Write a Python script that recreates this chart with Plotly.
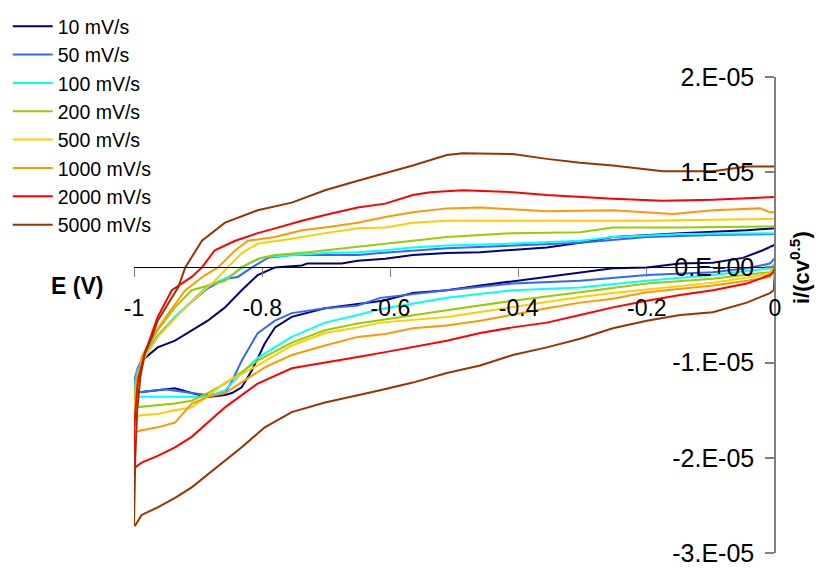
import plotly.graph_objects as go

# Scan-rate labels and colours
labels = ["10 mV/s", "50 mV/s", "100 mV/s", "200 mV/s", "500 mV/s",
          "1000 mV/s", "2000 mV/s", "5000 mV/s"]
colors = ["#000080", "#3366FF", "#00FFFF", "#99CC00", "#FFCC00",
          "#FF9900", "#FF0000", "#993300"]

# Each loop: E (V) and i/(c v^0.5) in units of 1e-5, cathodic sweep (0 -> -1) then anodic (-1 -> 0)
E_10 = [0, -0.019, -0.05, -0.097, -0.148, -0.2, -0.253, -0.356, -0.409, -0.46, -0.512, -0.565, -0.612,
        -0.702, -0.754, -0.78, -0.796, -0.816, -0.832, -0.847, -0.858, -0.885, -0.91, -0.936, -0.963, -0.988, -0.998,
        -1.0, -0.988, -0.963, -0.936, -0.91, -0.885, -0.858, -0.832, -0.807, -0.78, -0.738, -0.73, -0.676, -0.651,
        -0.608, -0.565, -0.512, -0.46, -0.356, -0.304, -0.253, -0.148, -0.044, 0]
I_10 = [0.24, 0.18, 0.10, 0.05, 0.04, 0.0, -0.01, -0.10, -0.14, -0.19, -0.24, -0.27, -0.35,
        -0.43, -0.52, -0.63, -0.80, -1.08, -1.26, -1.32, -1.34, -1.36, -1.32, -1.27, -1.29, -1.31, -1.31,
        -1.25, -0.98, -0.84, -0.77, -0.66, -0.56, -0.42, -0.24, -0.08, 0.0, 0.02, 0.04, 0.04, 0.07,
        0.09, 0.13, 0.15, 0.16, 0.21, 0.26, 0.32, 0.36, 0.39, 0.41]

E_50 = [0, -0.008, -0.044, -0.097, -0.2, -0.304, -0.409, -0.512, -0.616, -0.651, -0.702, -0.754, -0.78,
        -0.807, -0.832, -0.847, -0.858, -0.885, -0.91, -0.952, -0.988, -0.998,
        -1.0, -0.994, -0.983, -0.963, -0.936, -0.91, -0.885, -0.858, -0.838, -0.816, -0.791, -0.754, -0.651,
        -0.616, -0.512, -0.409, -0.304, -0.2, -0.097, 0]
I_50 = [0.10, 0.04, -0.01, -0.05, -0.08, -0.14, -0.17, -0.24, -0.32, -0.40, -0.43, -0.48, -0.56,
        -0.69, -0.98, -1.19, -1.32, -1.34, -1.32, -1.28, -1.31, -1.32,
        -1.20, -1.05, -0.92, -0.72, -0.52, -0.36, -0.22, -0.12, -0.10, 0.0, 0.10, 0.13, 0.13,
        0.15, 0.20, 0.23, 0.26, 0.32, 0.34, 0.35]

E_100 = [0, -0.008, -0.097, -0.2, -0.304, -0.409, -0.512, -0.616, -0.651, -0.702, -0.754, -0.807, -0.832,
         -0.858, -0.885, -0.936, -0.988, -0.998,
         -1.0, -0.994, -0.983, -0.963, -0.936, -0.91, -0.885, -0.852, -0.822, -0.796, -0.754, -0.702, -0.651,
         -0.608, -0.565, -0.512, -0.409, -0.304, -0.253, -0.148, 0]
I_100 = [0.04, -0.01, -0.08, -0.14, -0.21, -0.24, -0.32, -0.44, -0.50, -0.58, -0.73, -0.95, -1.11,
         -1.29, -1.36, -1.36, -1.36, -1.36,
         -1.26, -1.08, -0.94, -0.73, -0.52, -0.35, -0.19, -0.10, 0.04, 0.11, 0.13, 0.15, 0.16,
         0.18, 0.21, 0.23, 0.25, 0.28, 0.32, 0.35, 0.36]

E_200 = [0, -0.008, -0.097, -0.2, -0.304, -0.409, -0.512, -0.616, -0.651, -0.702, -0.754, -0.807, -0.858,
         -0.885, -0.91, -0.936, -0.963, -0.988, -0.998,
         -1.0, -0.996, -0.983, -0.963, -0.936, -0.91, -0.858, -0.832, -0.807, -0.78, -0.729, -0.676, -0.608,
         -0.565, -0.512, -0.409, -0.304, -0.253, -0.148, 0]
I_200 = [0.03, -0.05, -0.12, -0.17, -0.26, -0.35, -0.45, -0.55, -0.59, -0.66, -0.79, -0.98, -1.22,
         -1.32, -1.40, -1.43, -1.45, -1.47, -1.47,
         -1.40, -1.15, -0.90, -0.66, -0.42, -0.24, -0.14, 0.0, 0.09, 0.13, 0.16, 0.20, 0.25,
         0.28, 0.32, 0.36, 0.37, 0.42, 0.42, 0.43]

E_500 = [0, -0.008, -0.097, -0.2, -0.253, -0.304, -0.409, -0.512, -0.616, -0.651, -0.702, -0.754, -0.807,
         -0.858, -0.885, -0.91, -0.936, -0.963, -0.988, -0.998,
         -1.0, -0.995, -0.983, -0.963, -0.92, -0.874, -0.858, -0.832, -0.807, -0.754, -0.702, -0.651,
         -0.608, -0.565, -0.512, -0.409, -0.304, -0.2, -0.097, 0]
I_500 = [0.03, -0.07, -0.16, -0.23, -0.27, -0.31, -0.42, -0.52, -0.58, -0.63, -0.69, -0.82, -1.03,
         -1.21, -1.35, -1.47, -1.50, -1.54, -1.55, -1.57,
         -1.50, -1.20, -0.94, -0.73, -0.42, -0.14, -0.03, 0.15, 0.25, 0.30, 0.36, 0.41,
         0.42, 0.47, 0.49, 0.49, 0.49, 0.49, 0.50, 0.51]

E_1000 = [0, -0.003, -0.008, -0.044, -0.097, -0.2, -0.253, -0.304, -0.356, -0.409, -0.46, -0.512, -0.565,
          -0.608, -0.651, -0.702, -0.754, -0.796, -0.832, -0.858, -0.885, -0.91, -0.936, -0.963, -0.988, -0.998,
          -1.0, -0.996, -0.988, -0.972, -0.947, -0.92, -0.889, -0.869, -0.842, -0.822, -0.78, -0.738, -0.702,
          -0.651, -0.608, -0.565, -0.512, -0.46, -0.356, -0.253, -0.159, -0.097, -0.023, -0.008, 0]
I_1000 = [0.02, -0.06, -0.10, -0.14, -0.19, -0.26, -0.33, -0.37, -0.43, -0.50, -0.56, -0.61, -0.64,
          -0.70, -0.73, -0.82, -0.92, -1.05, -1.21, -1.32, -1.36, -1.43, -1.63, -1.68, -1.71, -1.73,
          -1.70, -1.30, -0.94, -0.73, -0.49, -0.24, -0.08, 0.0, 0.18, 0.28, 0.32, 0.39, 0.42,
          0.47, 0.53, 0.58, 0.62, 0.63, 0.59, 0.60, 0.56, 0.60, 0.62, 0.58, 0.58]

E_2000 = [0, -0.003, -0.008, -0.044, -0.097, -0.148, -0.2, -0.253, -0.304, -0.356, -0.409, -0.46, -0.512,
          -0.565, -0.608, -0.651, -0.702, -0.754, -0.807, -0.858, -0.91, -0.936, -0.963, -0.988, -0.998,
          -1.0, -1.0, -0.994, -0.983, -0.963, -0.941, -0.91, -0.894, -0.874, -0.842, -0.807, -0.78, -0.738,
          -0.702, -0.651, -0.608, -0.565, -0.538, -0.487, -0.409, -0.356, -0.253, -0.175, -0.097, -0.008, 0]
I_2000 = [0.0, -0.05, -0.08, -0.17, -0.24, -0.29, -0.35, -0.42, -0.50, -0.58, -0.63, -0.69, -0.77,
          -0.84, -0.89, -0.94, -1.00, -1.06, -1.22, -1.47, -1.78, -1.89, -1.98, -2.05, -2.10,
          -2.08, -1.71, -1.19, -0.90, -0.52, -0.24, -0.10, 0.0, 0.18, 0.28, 0.36, 0.41, 0.49,
          0.55, 0.63, 0.67, 0.76, 0.79, 0.81, 0.79, 0.76, 0.72, 0.70, 0.71, 0.74, 0.74]

E_5000 = [0, -0.002, -0.008, -0.044, -0.097, -0.148, -0.2, -0.253, -0.304, -0.356, -0.409, -0.46, -0.512,
          -0.565, -0.616, -0.651, -0.702, -0.754, -0.796, -0.832, -0.858, -0.91, -0.936, -0.963, -0.988, -0.998,
          -1.0, -0.998, -0.995, -0.99, -0.983, -0.972, -0.963, -0.947, -0.931, -0.92, -0.894, -0.858, -0.807,
          -0.754, -0.702, -0.651, -0.608, -0.565, -0.512, -0.487, -0.409, -0.356, -0.304, -0.253, -0.175,
          -0.097, -0.044, 0]
I_5000 = [-0.02, -0.24, -0.27, -0.37, -0.47, -0.50, -0.56, -0.64, -0.75, -0.84, -0.92, -1.03, -1.11,
          -1.21, -1.29, -1.34, -1.42, -1.52, -1.68, -1.89, -2.03, -2.31, -2.42, -2.52, -2.60, -2.71,
          -2.70, -2.00, -1.50, -1.15, -0.90, -0.73, -0.56, -0.38, -0.21, 0.0, 0.28, 0.47, 0.60,
          0.68, 0.81, 0.91, 0.99, 1.07, 1.18, 1.20, 1.19, 1.14, 1.10, 1.07, 1.01,
          1.01, 1.06, 1.06]

E_series = [E_10, E_50, E_100, E_200, E_500, E_1000, E_2000, E_5000]
I_series = [I_10, I_50, I_100, I_200, I_500, I_1000, I_2000, I_5000]
unit = 1e-5

x_ticks = [-1, -0.8, -0.6, -0.4, -0.2, 0]
x_ticktext = ["-1", "-0.8", "-0.6", "-0.4", "-0.2", "0"]
y_ticks = [2e-5, 1e-5, 0, -1e-5, -2e-5, -3e-5]
y_ticktext = ["2.E-05", "1.E-05", "0.E+00", "-1.E-05", "-2.E-05", "-3.E-05"]

FONT = "Liberation Sans, Arial, sans-serif"

fig = go.Figure()
for lab, col, ex, iy in zip(labels, colors, E_series, I_series):
    fig.add_trace(go.Scatter(
        x=ex, y=[v * unit for v in iy], mode="lines", name=lab,
        line=dict(color=col, width=2), legendgroup=lab,
    ))

fig.update_layout(
    width=819, height=568,
    margin=dict(l=134, r=44, t=77, b=15, autoexpand=False),
    paper_bgcolor="white", plot_bgcolor="white",
    font=dict(family=FONT, color="black"),
    showlegend=True,
    legend=dict(x=-0.197, xanchor="left", y=1.147, yanchor="top",
                font=dict(size=19.5, family=FONT), tracegroupgap=0, itemwidth=40,
                bgcolor="rgba(0,0,0,0)", borderwidth=0),
    xaxis=dict(range=[-1, 0], tickvals=x_ticks, ticktext=x_ticktext,
               anchor="free", position=0.6, showline=True, linecolor="black", linewidth=1,
               ticks="outside", ticklen=9, tickcolor="#808080", tickwidth=1,
               showgrid=False, zeroline=False, ticklabelstandoff=11,
               tickfont=dict(size=23, family=FONT)),
    yaxis=dict(range=[-3e-5, 2e-5], tickvals=y_ticks, ticktext=y_ticktext,
               side="left", anchor="free", position=1.0,
               showline=True, linecolor="#808080", linewidth=1.5,
               ticks="outside", ticklen=9, tickcolor="#808080", tickwidth=1.5,
               showgrid=False, zeroline=False, ticklabelstandoff=6,
               tickfont=dict(size=25, family=FONT)),
    annotations=[
        dict(text="<b>E (V)</b>", xref="paper", yref="y", x=-0.045, y=0, xanchor="right",
             yanchor="top", yshift=-4, showarrow=False, font=dict(size=23, family=FONT)),
        dict(text="<b>i/(cv<sup>0.5</sup>)</b>", xref="paper", yref="y", x=1.04, y=0,
             xanchor="center", yanchor="middle", textangle=-90, showarrow=False,
             font=dict(size=22, family=FONT)),
    ],
)

fig.write_html("out.html")
